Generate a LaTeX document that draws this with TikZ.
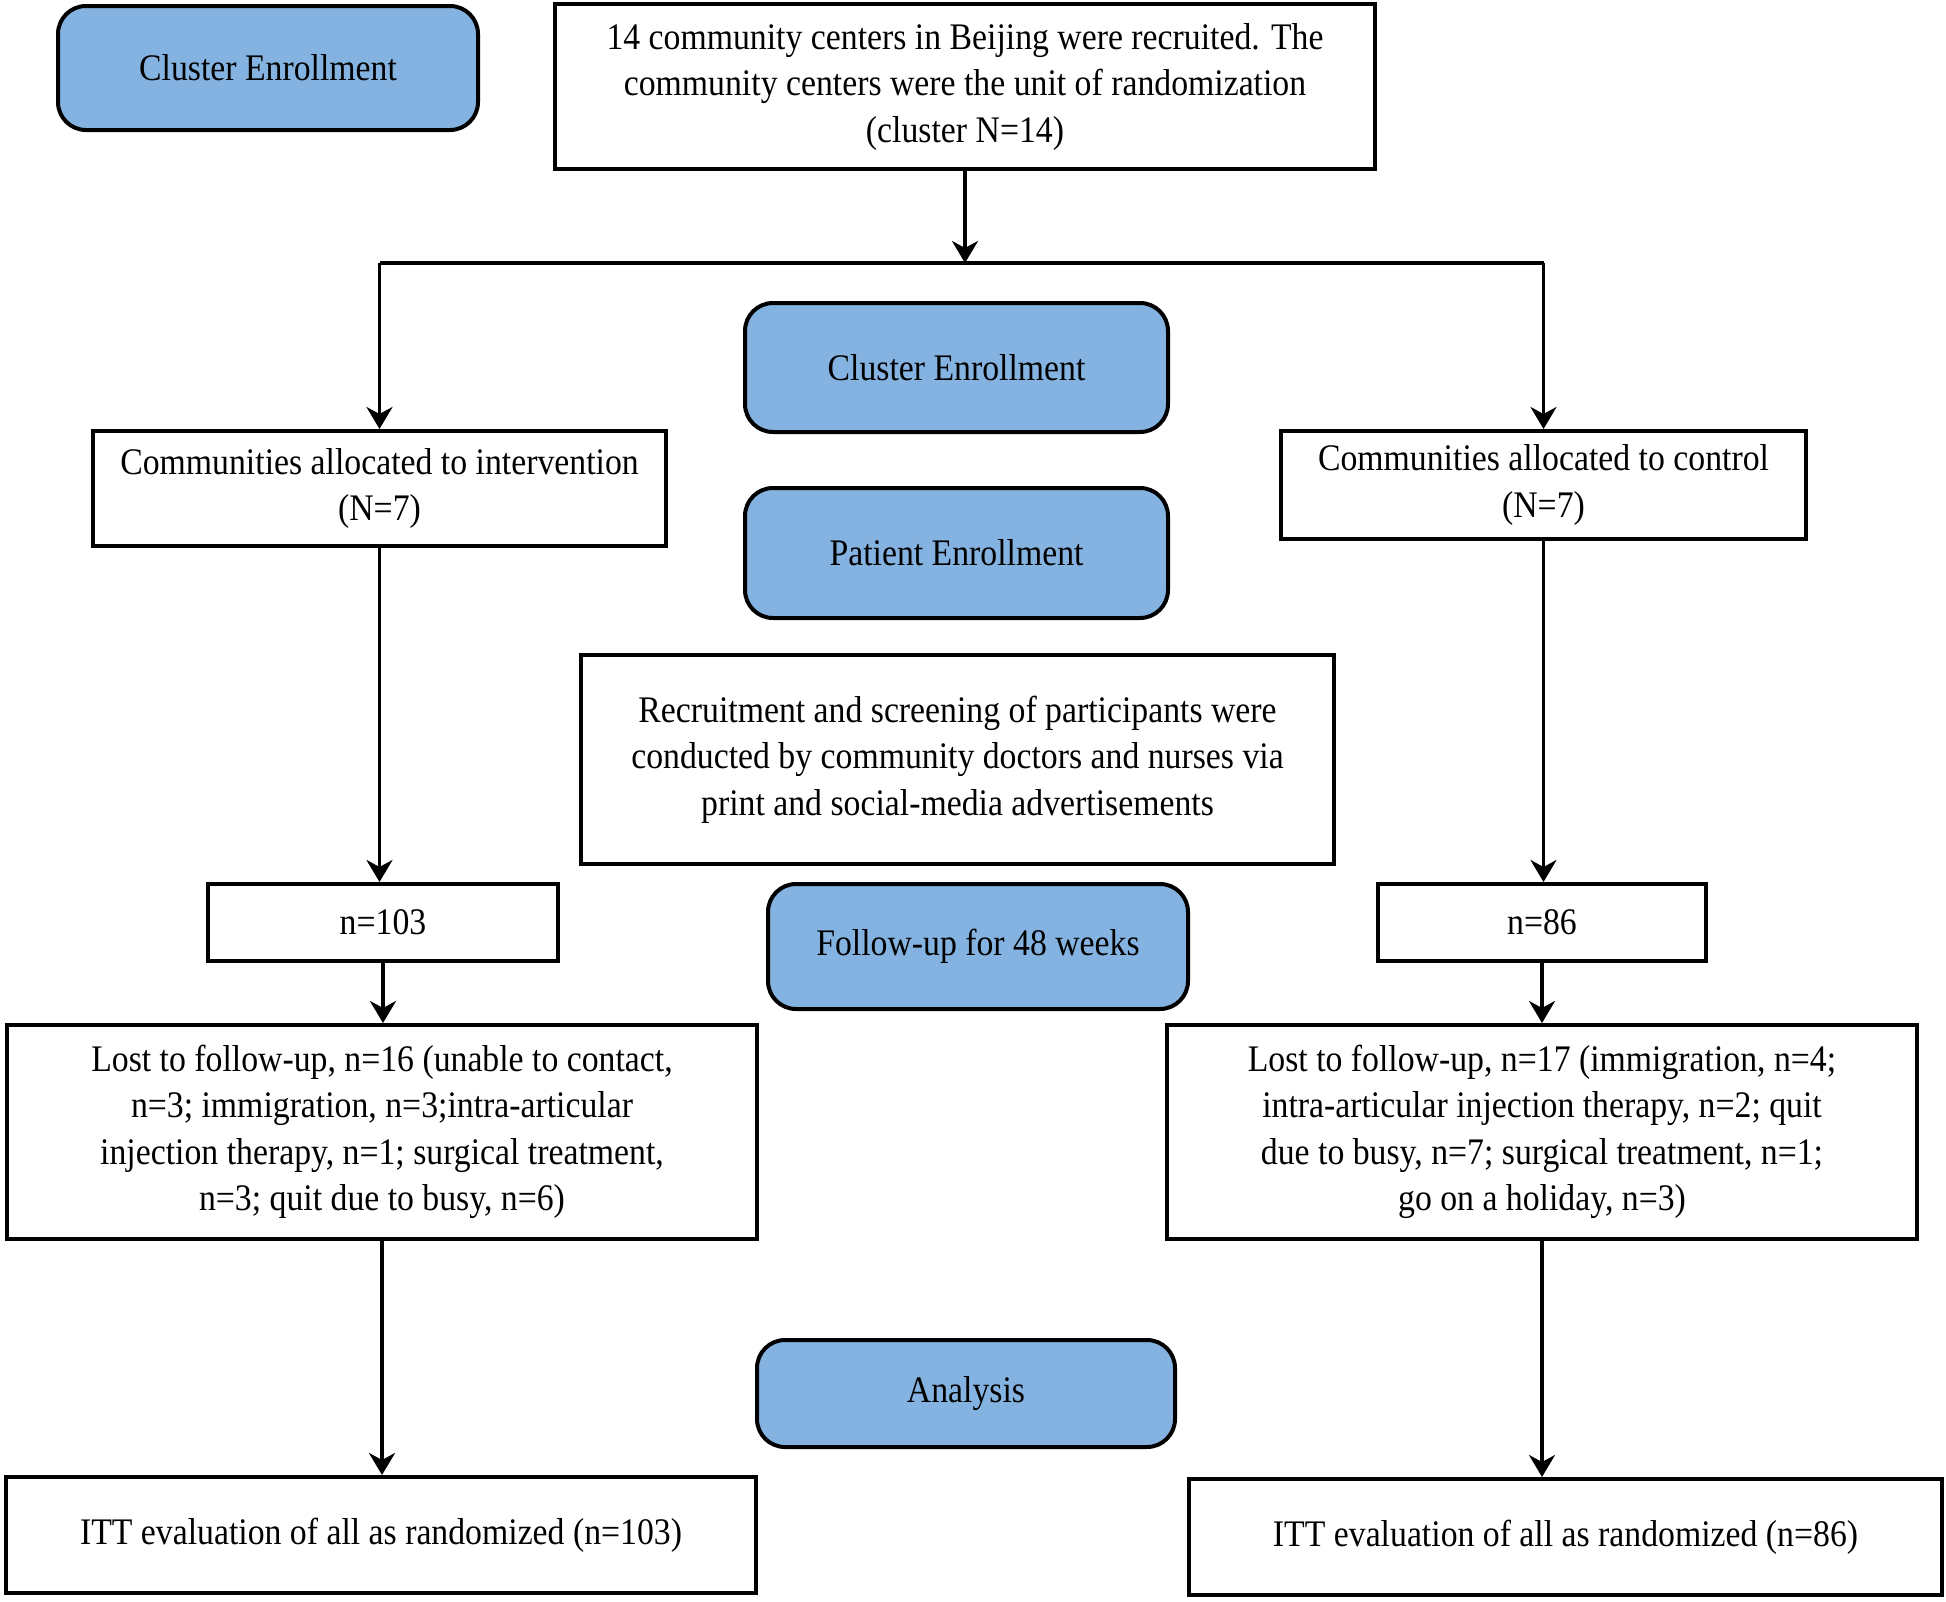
\documentclass[tikz,border=0pt]{standalone}
\usepackage{fontspec}
\setmainfont{Liberation Serif}[FakeStretch=0.9]
\usetikzlibrary{arrows.meta}
\definecolor{enrollblue}{RGB}{132,179,226}
\begin{document}
\begin{tikzpicture}[x=1pt,y=-1pt,
  box/.style={draw=black, line width=4pt, rectangle, inner sep=0pt, align=center, font=\fontsize{37.5}{46.5}\selectfont},
  phase/.style={box, fill=enrollblue, rounded corners=28pt},
  conn/.style={line width=3.5pt, -{Stealth[length=22pt,width=26pt,inset=7pt]}},
  plain/.style={line width=3.5pt}]
\useasboundingbox (0,0) rectangle (1946,1601);
% phase labels
\node[phase, minimum width=420pt, minimum height=124pt] (ce1) at (268,68) {Cluster Enrollment};
\node[phase, minimum width=423pt, minimum height=129pt] (ce2) at (956.5,367.5) {Cluster Enrollment};
\node[phase, minimum width=423pt, minimum height=130pt] (pe) at (956.5,553) {Patient Enrollment};
\node[phase, minimum width=420pt, minimum height=125pt] (fu) at (978,946.5) {Follow-up for 48 weeks};
\node[phase, minimum width=418pt, minimum height=107pt] (an) at (966,1393.5) {Analysis};
% boxes
\node[box, minimum width=820pt, minimum height=165pt] (top) at (965,86.5) {14 community centers in Beijing were recruited. The\\community centers were the unit of randomization\\(cluster N=14)};
\node[box, minimum width=573pt, minimum height=115pt] (int) at (379.5,488.5) {Communities allocated to intervention\\(N=7)};
\node[box, minimum width=525pt, minimum height=108pt] (ctl) at (1543.5,485) {Communities allocated to control\\(N=7)};
\node[box, minimum width=753pt, minimum height=209pt] (rec) at (957.5,759.5) {Recruitment and screening of participants were\\conducted by community doctors and nurses via\\print and social-media advertisements};
\node[box, minimum width=350pt, minimum height=77pt] (n103) at (383,922.5) {n=103};
\node[box, minimum width=328pt, minimum height=77pt] (n86) at (1542,922.5) {n=86};
\node[box, minimum width=750pt, minimum height=214pt] (lostL) at (382,1132) {Lost to follow-up, n=16 (unable to contact,\\n=3; immigration, n=3;intra-articular\\injection therapy, n=1; surgical treatment,\\n=3; quit due to busy, n=6)};
\node[box, minimum width=750pt, minimum height=214pt] (lostR) at (1542,1132) {Lost to follow-up, n=17 (immigration, n=4;\\intra-articular injection therapy, n=2; quit\\due to busy, n=7; surgical treatment, n=1;\\go on a holiday, n=3)};
\node[box, minimum width=750pt, minimum height=116pt] (ittL) at (381,1535) {ITT evaluation of all as randomized (n=103)};
\node[box, minimum width=753pt, minimum height=116pt] (ittR) at (1565.5,1537) {ITT evaluation of all as randomized (n=86)};
% connectors
\coordinate (br) at (965,263);
\draw[conn] (top.south) -- (top.south |- br);
\draw[plain] (int.north |- br) -- (ctl.north |- br);
\draw[conn] (int.north |- br) -- (int.north);
\draw[conn] (ctl.north |- br) -- (ctl.north);
\draw[conn] (int.south) -- (int.south |- n103.north);
\draw[conn] (n103.south) -- (n103.south |- lostL.north);
\draw[conn] (lostL.south) -- (lostL.south |- ittL.north);
\draw[conn] (ctl.south) -- (ctl.south |- n86.north);
\draw[conn] (n86.south) -- (n86.south |- lostR.north);
\draw[conn] (lostR.south) -- (lostR.south |- ittR.north);
\end{tikzpicture}
\end{document}
